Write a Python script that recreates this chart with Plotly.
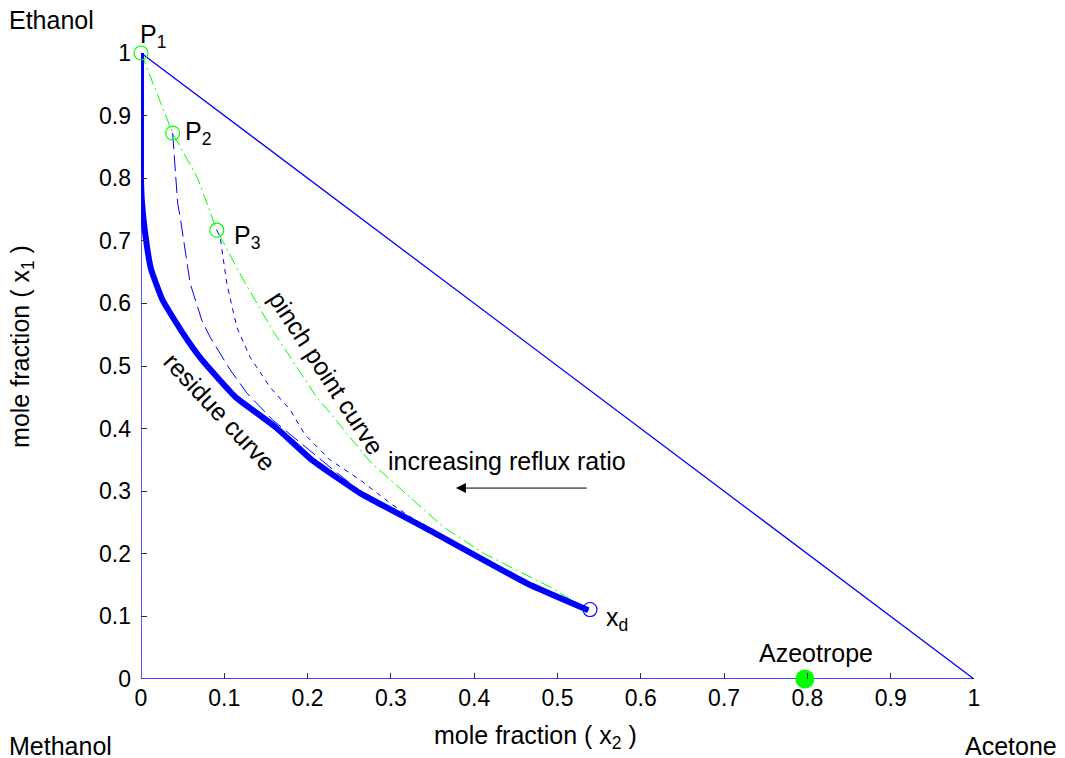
import plotly.graph_objects as go

# ---- data ----
tri_x = [0, 1, 0, 0]
tri_y = [0, 0, 1, 0]

residue_x = [0.537, 0.463, 0.339, 0.263, 0.205, 0.161, 0.113, 0.073, 0.049, 0.026, 0.012, 0.005, 0.001, 0.0, 0.0]
residue_y = [0.110, 0.153, 0.243, 0.297, 0.350, 0.403, 0.451, 0.510, 0.555, 0.605, 0.655, 0.712, 0.765, 0.800, 1.000]

pinch_x = [0.0, 0.038, 0.068, 0.091, 0.121, 0.158, 0.211, 0.227, 0.275, 0.311, 0.363, 0.411, 0.491, 0.537]
pinch_y = [1.0, 0.872, 0.800, 0.717, 0.642, 0.557, 0.450, 0.425, 0.347, 0.305, 0.243, 0.201, 0.147, 0.110]

long_x = [0.038, 0.044, 0.047, 0.055, 0.059, 0.073, 0.083, 0.107, 0.127, 0.158, 0.187, 0.230, 0.263, 0.339, 0.463, 0.537]
long_y = [0.872, 0.760, 0.738, 0.665, 0.632, 0.573, 0.546, 0.494, 0.457, 0.414, 0.382, 0.335, 0.300, 0.243, 0.153, 0.110]

short_x = [0.091, 0.095, 0.103, 0.115, 0.131, 0.155, 0.179, 0.197, 0.227, 0.263, 0.300, 0.339, 0.463, 0.537]
short_y = [0.717, 0.706, 0.632, 0.562, 0.514, 0.466, 0.430, 0.390, 0.350, 0.318, 0.280, 0.245, 0.153, 0.110]

pinch_pts_x = [0.0, 0.038, 0.091]
pinch_pts_y = [1.0, 0.872, 0.717]
xd = (0.539, 0.111)
azeotrope = (0.797, 0.0)

ticks = [0, 0.1, 0.2, 0.3, 0.4, 0.5, 0.6, 0.7, 0.8, 0.9, 1]
tick_text = ["0", "0.1", "0.2", "0.3", "0.4", "0.5", "0.6", "0.7", "0.8", "0.9", "1"]

BLUE = "#0000FF"
GREEN = "#00FF00"
FONT = "Liberation Sans, Arial, sans-serif"
FS = 25
TFS = 23

fig = go.Figure()
fig.add_trace(go.Scatter(x=tri_x, y=tri_y, mode="lines",
                         line=dict(color=BLUE, width=1.3), cliponaxis=False))
fig.add_trace(go.Scatter(x=pinch_x, y=pinch_y, mode="lines",
                         line=dict(color=GREEN, width=1, dash="12px,4px,2px,4px")))
fig.add_trace(go.Scatter(x=long_x, y=long_y, mode="lines",
                         line=dict(color=BLUE, width=1, dash="16px,6px")))
fig.add_trace(go.Scatter(x=short_x, y=short_y, mode="lines",
                         line=dict(color=BLUE, width=1, dash="5px,5px")))
fig.add_trace(go.Scatter(x=residue_x, y=residue_y, mode="lines",
                         line=dict(color=BLUE, width=6, shape="spline", smoothing=0.4),
                         cliponaxis=False))
fig.add_trace(go.Scatter(x=pinch_pts_x, y=pinch_pts_y, mode="markers", cliponaxis=False,
                         marker=dict(symbol="circle-open", size=14, color=GREEN,
                                     line=dict(width=1.2, color=GREEN))))
fig.add_trace(go.Scatter(x=[xd[0]], y=[xd[1]], mode="markers", cliponaxis=False,
                         marker=dict(symbol="circle-open", size=14, color=BLUE,
                                     line=dict(width=1.2, color=BLUE))))
fig.add_trace(go.Scatter(x=[azeotrope[0]], y=[azeotrope[1]], mode="markers", cliponaxis=False,
                         marker=dict(symbol="circle", size=19, color=GREEN)))

def ann(text, x, y, angle=0, size=FS):
    fig.add_annotation(text=text, x=x, y=y, xref="paper", yref="paper", showarrow=False,
                       textangle=angle, font=dict(family=FONT, size=size, color="black"),
                       xanchor="center", yanchor="middle")

ann("P<sub>1</sub>", 0.0144, 1.027)
ann("P<sub>2</sub>", 0.068, 0.872)
ann("P<sub>3</sub>", 0.127, 0.706)
ann("x<sub>d</sub>", 0.571, 0.096)
ann("Azeotrope", 0.810, 0.0415)
ann("increasing reflux ratio", 0.439, 0.348)
ann("pinch point curve", 0.223, 0.489, angle=57)
ann("residue curve", 0.095, 0.427, angle=47)

ann("Ethanol", -0.108, 1.0527)
ann("Methanol", -0.0972, -0.107)
ann("Acetone", 1.0444, -0.107)
ann("mole fraction ( x<sub>2</sub> )", 0.473, -0.0927, size=25)
ann("mole fraction ( x<sub>1</sub> )", -0.1429, 0.532, angle=-90, size=25)

fig.add_annotation(x=0.378, y=0.305, ax=0.537, ay=0.305, xref="x", yref="y",
                   axref="x", ayref="y", showarrow=True, arrowhead=2, arrowsize=2,
                   arrowwidth=1, arrowcolor="black", text="")

axis_common = dict(range=[0, 1], tickvals=ticks, ticktext=tick_text, ticks="inside",
                   ticklen=6, tickwidth=1, tickcolor="#333333", showgrid=False,
                   zeroline=False, showline=False,
                   tickfont=dict(family=FONT, size=TFS, color="black"))
fig.update_xaxes(**axis_common, ticklabelstandoff=3)
fig.update_yaxes(**axis_common, ticklabelstandoff=9)

# page body adds an 8px margin, so the figure is 8px smaller and shifted
fig.update_layout(width=1057, height=750, showlegend=False,
                  plot_bgcolor="white", paper_bgcolor="white",
                  margin=dict(l=133, r=91, t=45, b=79),
                  font=dict(family=FONT, size=FS))

fig.write_html("out.html")
